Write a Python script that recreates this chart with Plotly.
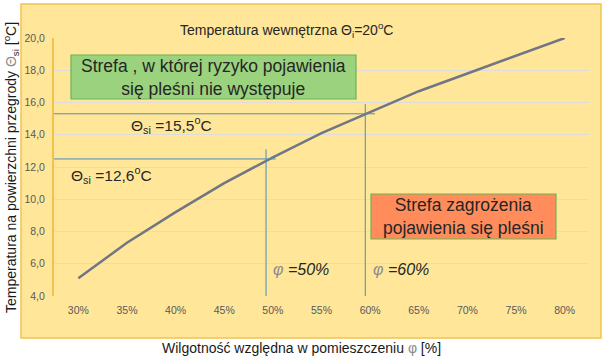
import plotly.graph_objects as go

# ---- data ----
humidity = [30, 35, 40, 45, 50, 55, 60, 65, 70, 75, 80]          # φ [%]
theta_si = [5.1, 7.3, 9.2, 11.0, 12.6, 14.1, 15.4, 16.7, 17.8, 18.9, 20.0]
x_tick_labels = [f"{v}%" for v in humidity]
y_ticks = [4, 6, 8, 10, 12, 14, 16, 18, 20]
y_tick_labels = [f"{v},0" for v in y_ticks]
phi_marks = [49.3, 59.5]          # reference humidities
theta_marks = [12.5, 15.3]        # corresponding surface temperatures
phi_labels = ["=50%", "=60%"]
theta_labels = ["12,6", "15,5"]

FONT = "Liberation Sans, Arial, sans-serif"
W, H = 605, 358
ML, MR, MT, MB = 54, 16, 38, 62
PW, PH = W - ML - MR, H - MT - MB

def px(xp):
    return (xp - ML) / PW

def py(yp):
    return (H - MB - yp) / PH

fig = go.Figure()
fig.add_trace(go.Scatter(
    x=humidity, y=theta_si, mode="lines",
    line=dict(color="#707683", width=2.5),
    showlegend=False, hoverinfo="skip"))

shapes = []
# outer yellow panel
shapes.append(dict(type="rect", xref="paper", yref="paper",
                   x0=px(21), x1=px(601), y0=py(338), y1=py(4),
                   fillcolor="#FFE699", line=dict(color="#F2C34F", width=1.5),
                   layer="below"))
# reference lines
line_col = "#4E8EBE"
for phi, th in zip(phi_marks, theta_marks):
    shapes.append(dict(type="line", xref="x", yref="y",
                       x0=27.1, x1=phi + 1.0, y0=th, y1=th,
                       line=dict(color=line_col, width=1)))
    shapes.append(dict(type="line", xref="x", yref="y",
                       x0=phi, x1=phi, y0=4, y1=th + 0.6,
                       line=dict(color=line_col, width=1)))
# green box
shapes.append(dict(type="rect", xref="paper", yref="paper",
                   x0=px(71), x1=px(356), y0=py(99), y1=py(55),
                   fillcolor="#9BD27D", line=dict(color="#6DB356", width=1.2)))
# orange box
shapes.append(dict(type="rect", xref="paper", yref="paper",
                   x0=px(371), x1=px(556), y0=py(239), y1=py(194),
                   fillcolor="#FF8C5A", line=dict(color="#6DB356", width=1.2)))

TXT = "#262626"

def note(xp, yp, text, size, color=TXT, **kw):
    return dict(xref="paper", yref="paper", x=px(xp), y=py(yp),
                xanchor="center", yanchor="middle", text=text,
                showarrow=False, font=dict(family=FONT, size=size, color=color, **kw))

ann = []
ann.append(note(286, 30, "Temperatura wewnętrzna Θ<sub>i</sub>=20<sup>o</sup>C", 14))
ann.append(note(213, 77, "Strefa , w której ryzyko pojawienia<br>się pleśni nie występuje", 17.5))
ann.append(note(463, 216, "Strefa zagrożenia<br>pojawienia się pleśni", 17.5))
ann.append(note(171, 125, f"Θ<sub>si</sub> ={theta_labels[1]}<sup>o</sup>C", 15.5))
ann.append(note(111, 175, f"Θ<sub>si</sub> ={theta_labels[0]}<sup>o</sup>C", 15.5))
for xc, lab in zip([301, 401], phi_labels):
    ann.append(note(xc, 269, f"<span style='color:#8a8a8a'>φ</span> {lab}", 16, style="italic"))
# axis titles
ann.append(note(301, 348,
                "Wilgotność względna w pomieszczeniu <span style='color:#8a8a8a'>φ</span> [%]",
                14, color="#1a1a1a"))
yt = note(11, 168,
          "Temperatura na powierzchni przegrody <span style='color:#8a8a8a'>Θ</span><sub>si</sub> [<sup>o</sup>C]",
          14, color="#1a1a1a")
yt["textangle"] = -90
ann.append(yt)

fig.update_layout(
    width=W, height=H,
    margin=dict(l=ML, r=MR, t=MT, b=MB, autoexpand=False),
    paper_bgcolor="white", plot_bgcolor="rgba(0,0,0,0)",
    shapes=shapes, annotations=ann,
    font=dict(family=FONT),
    xaxis=dict(range=[27.5, 82.5], tickvals=humidity, ticktext=x_tick_labels,
               showgrid=False, zeroline=False, showline=False, automargin=False,
               ticks="outside", ticklen=4, tickcolor="rgba(0,0,0,0)",
               tickfont=dict(family=FONT, size=10.5, color="#595959")),
    yaxis=dict(range=[4, 20], tickvals=y_ticks, ticktext=y_tick_labels,
               showgrid=True, gridcolor="#DCDCDC", gridwidth=1, automargin=False,
               zeroline=False, showline=True, linecolor="#F2C14E", linewidth=2,
               ticks="outside", ticklen=5, tickcolor="rgba(0,0,0,0)",
               tickfont=dict(family=FONT, size=10.5, color="#595959")),
)

fig.write_html("out.html", config={"displayModeBar": False},
               post_script="document.body.style.margin='0';")
